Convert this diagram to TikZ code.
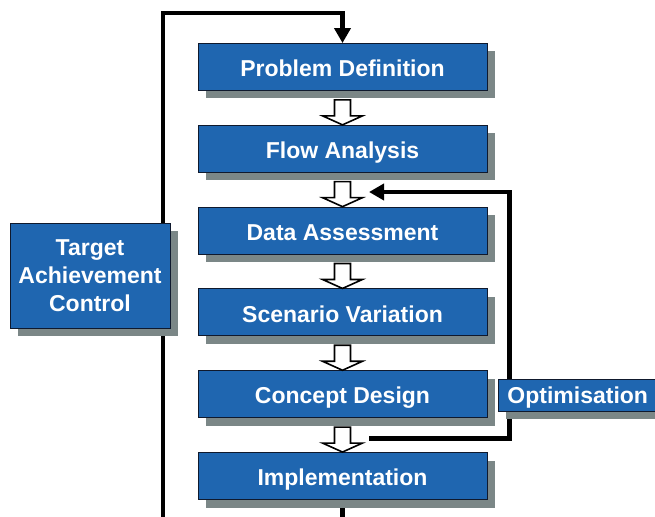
\documentclass[tikz,border=0pt]{standalone}
\usepackage{fontspec}
\setmainfont{Liberation Sans}
\usetikzlibrary{shadows,arrows.meta,calc}
\pgfdeclarelayer{bg}
\pgfsetlayers{bg,main}
\definecolor{boxblue}{RGB}{31,102,176}
\definecolor{shgrey}{RGB}{123,135,135}
\definecolor{edgecol}{RGB}{15,25,45}
\tikzset{
  bluebox/.style={draw=edgecol, line width=0.9pt, fill=boxblue, text=white,
    font=\bfseries\fontsize{23}{28}\selectfont, inner sep=0pt,
    drop shadow={shadow xshift=8pt, shadow yshift=-8pt, fill=shgrey, opacity=1}},
  stepbox/.style={bluebox, minimum width=289pt, minimum height=47pt, text height=19.5pt, text depth=0pt},
  hollow/.style={draw=black, line width=1.6pt, fill=white, line join=miter},
  loopline/.style={line width=4.6pt, line join=miter, -{Triangle[length=15pt,width=16pt]}}
}
\begin{document}
\begin{tikzpicture}[x=1pt,y=-1pt]
\clip (0,0) rectangle (655,516);
% main chain
\node[stepbox] (p1) at (342.5,67)    {Problem Definition};
\node[stepbox] (p2) at (342.5,148.8) {Flow Analysis};
\node[stepbox] (p3) at (342.5,230.6) {Data Assessment};
\node[stepbox] (p4) at (342.5,312.4) {Scenario Variation};
\node[stepbox] (p5) at (342.5,394.2) {Concept Design};
\node[stepbox] (p6) at (342.5,476)   {Implementation};
% side boxes
\node[bluebox, minimum width=160pt, minimum height=105pt, align=center] (tac) at (90,275.5)
  {Target\\Achievement\\Control};
\node[bluebox, anchor=west, minimum height=32pt, inner xsep=9pt, text width=160pt, text height=16pt, text depth=0pt, align=left] (opt) at (498,395)
  {Optimisation};
% hollow arrows
\foreach \n in {p2,p3,p4,p5,p6}{
  \draw[hollow] (\n.north) -- ++(20,-9) -- ++(-12,0) -- ++(0,-16) -- ++(-16,0) -- ++(0,16) -- ++(-12,0) -- cycle;
}
% connectors behind the boxes
\coordinate (lbot) at (163,530);
\coordinate (ltop) at (163,13);
\coordinate (fbs) at (369,438.5);
\coordinate (fbr) at (509.5,438.5);
\coordinate (fbt) at (509.5,192);
\coordinate (fbe) at (369,192);
\begin{pgfonlayer}{bg}
\fill[white] (0,0) rectangle (655,516);
\draw[loopline] (p6.south) |- (lbot) -- (ltop) -| (p1.north);
\draw[loopline] (fbs) -- (fbr) -- (fbt) -- (fbe);
\end{pgfonlayer}
\end{tikzpicture}
\end{document}
